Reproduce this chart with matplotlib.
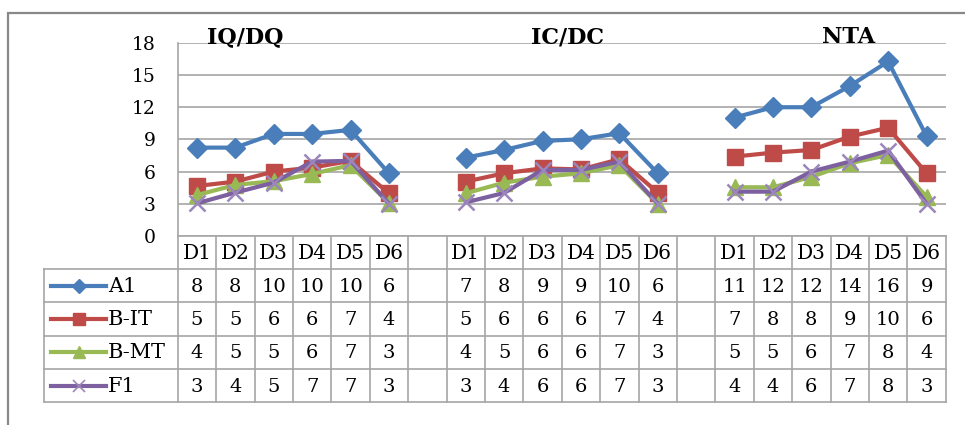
import matplotlib.pyplot as plt
from matplotlib.patches import Rectangle
from matplotlib.lines import Line2D

groups = ['IQ/DQ', 'IC/DC', 'NTA']
days = ['D1', 'D2', 'D3', 'D4', 'D5', 'D6']
series_names = ['A1', 'B-IT', 'B-MT', 'F1']

# values per group (IQ/DQ, IC/DC, NTA)
a1 = [[8.24, 8.24, 9.52, 9.52, 9.9, 5.84],
      [7.3, 8.02, 8.87, 9.02, 9.59, 5.84],
      [11.05, 12.02, 12.02, 14.0, 16.3, 9.33]]
b_it = [[4.65, 5.06, 6.0, 6.37, 7.0, 3.97],
        [5.06, 5.84, 6.3, 6.2, 7.15, 4.03],
        [7.4, 7.77, 8.02, 9.27, 10.1, 5.84]]
b_mt = [[3.8, 4.75, 5.1, 5.78, 6.6, 3.05],
        [3.97, 4.96, 5.52, 5.84, 6.6, 3.0],
        [4.53, 4.53, 5.5, 6.78, 7.55, 3.65]]
f1 = [[3.03, 4.03, 4.96, 6.93, 7.0, 3.0],
      [3.12, 4.0, 6.15, 6.15, 6.93, 3.0],
      [4.12, 4.12, 6.0, 6.93, 7.96, 3.0]]

series = [a1, b_it, b_mt, f1]
colors = ['#4A7EBB', '#BE4B48', '#98B954', '#7D60A0']
markers = ['D', 's', '^', 'x']
msizes = [10, 11, 11, 11]

font = 'DejaVu Serif'
W, H = 965, 425
fig = plt.figure(figsize=(W / 100, H / 100), dpi=100)


def fx(px):
    return px / W


def fy(py):
    return 1 - py / H


# outer chart frame (cut off at right and bottom)
fig.patches.append(Rectangle((fx(8), -0.1), 1.2, fy(13) + 0.1, transform=fig.transFigure,
                             fill=False, edgecolor='#888888', lw=1.6))

left, right, top, bottom = 177.7, 945.7, 43.3, 235.7
ax = fig.add_axes([fx(left), fy(bottom), fx(right) - fx(left), fy(top) - fy(bottom)])

n_slots = 20
slot_w = (right - left) / n_slots
starts = [0, 7, 14]

for vals, col, mk, ms in zip(series, colors, markers, msizes):
    for g, s in enumerate(starts):
        xs = [s + i for i in range(len(days))]
        if mk == 'x':
            ax.plot(xs, vals[g], color=col, lw=3, marker=mk, ms=ms, mew=1.8,
                    mec='#9C86BC', solid_capstyle='round')
        else:
            ax.plot(xs, vals[g], color=col, lw=3, marker=mk, ms=ms, mec=col,
                    solid_capstyle='round')

ax.set_xlim(-0.5, n_slots - 0.5)
ax.set_ylim(0, 18)
ax.set_yticks(range(0, 19, 3))
ax.set_xticks([])
ax.grid(axis='y', color='#A6A6A6', lw=1.2)
ax.set_axisbelow(True)
for sp in ['top', 'right', 'bottom']:
    ax.spines[sp].set_visible(False)
ax.spines['left'].set_color('#A6A6A6')
ax.spines['left'].set_linewidth(1.2)
ax.tick_params(axis='y', length=0, pad=16, labelsize=13.5)
for lab in ax.get_yticklabels():
    lab.set_fontfamily(font)

# group titles
title_x = [245, 567, 849]
for t, x in zip(groups, title_x):
    fig.text(fx(x), fy(43), t, ha='center', va='baseline', fontsize=16,
             fontweight='bold', family=font)

# data table below the plot
t_left, t_bottom = 44.3, 402.3
tax = fig.add_axes([fx(t_left), fy(t_bottom), fx(right) - fx(t_left), fy(bottom) - fy(t_bottom)])
leg_w = (left - t_left) / slot_w
tax.set_xlim(-0.5 - leg_w, n_slots - 0.5)
tax.set_ylim(5, 0)
tax.axis('off')

lc = '#A6A6A6'
lw = 1.2
x0 = -0.5 - leg_w
x1 = n_slots - 0.5
# horizontal lines
tax.plot([-0.5, x1], [0, 0], color=lc, lw=lw, clip_on=False)
for r in range(1, 6):
    tax.plot([x0, x1], [r, r], color=lc, lw=lw, clip_on=False)
# vertical lines
for k in range(n_slots + 1):
    tax.plot([k - 0.5, k - 0.5], [0, 5], color=lc, lw=lw, clip_on=False)
tax.plot([x0, x0], [1, 5], color=lc, lw=lw, clip_on=False)

# header
for s in starts:
    for i, d in enumerate(days):
        tax.text(s + i, 0.52, d, ha='center', va='center', fontsize=14.5, family=font)

# rows
line_x0 = x0 + 7 / slot_w
line_x1 = x0 + 62 / slot_w
for r, (name, vals, col, mk, ms) in enumerate(zip(series_names, series, colors, markers, msizes)):
    y = r + 1.5
    tax.add_line(Line2D([line_x0, line_x1], [y, y], color=col, lw=3))
    mx = (line_x0 + line_x1) / 2
    if mk == 'x':
        tax.add_line(Line2D([mx], [y], marker=mk, ms=9, mew=1.2, color='#9C86BC'))
    else:
        tax.add_line(Line2D([mx], [y], marker=mk, ms=ms * 0.75, color=col))
    tax.text(x0 + 64 / slot_w, y + 0.02, name, ha='left', va='center', fontsize=15, family=font)
    for g, s in enumerate(starts):
        for i, v in enumerate(vals[g]):
            tax.text(s + i, y + 0.03, f"{int(v + 0.5)}", ha='center', va='center',
                     fontsize=14, family=font)

fig.savefig('out.png', dpi=100)
